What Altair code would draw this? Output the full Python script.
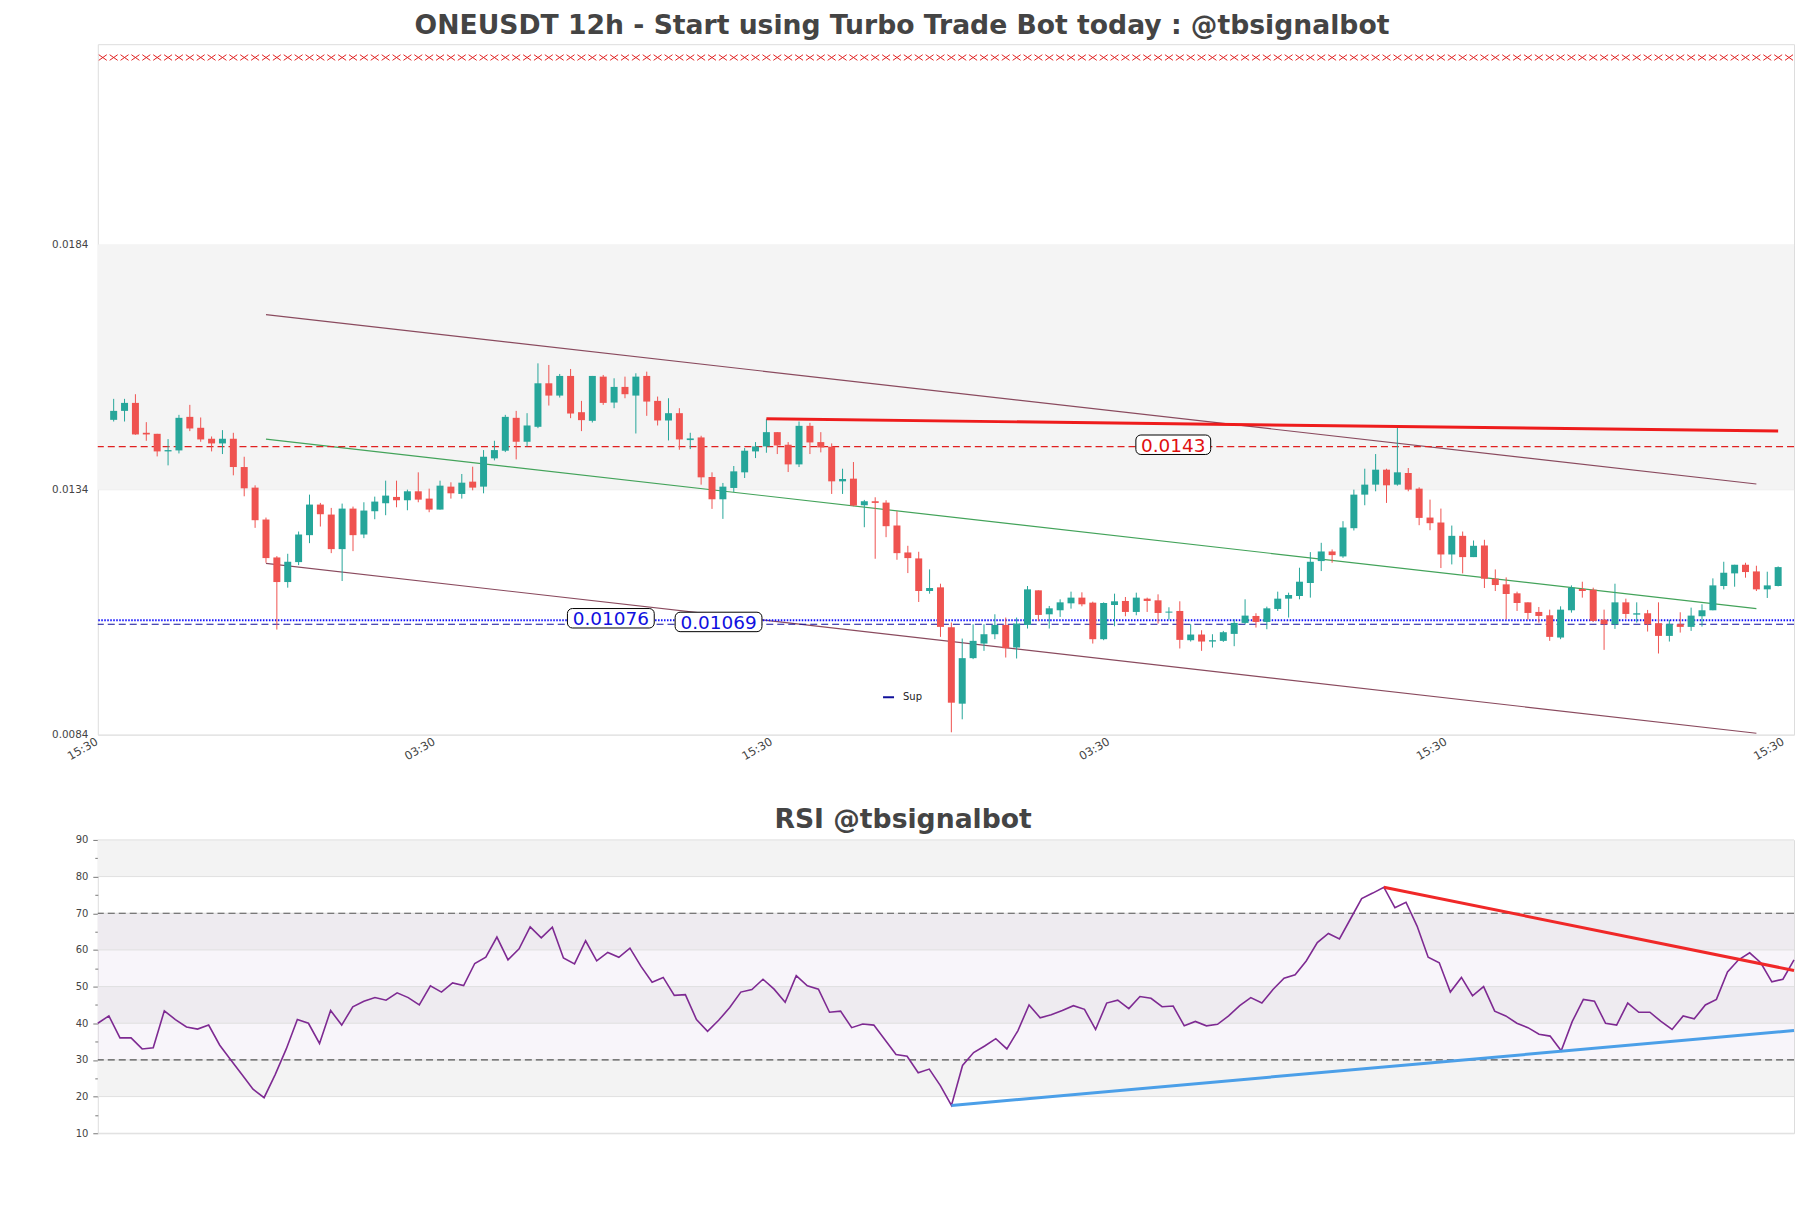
import altair as alt
import pandas as pd

# ---------------- candle data (12h candles) ----------------
opens = [
0.014824, 0.015007, 0.015170, 0.014560, 0.014539, 0.014180, 0.014200, 0.014885, 0.014662, 0.014438,
0.014343, 0.014438, 0.013861, 0.013441, 0.012790, 0.012016, 0.011514, 0.011921, 0.012471, 0.013095,
0.012891, 0.012186, 0.013013, 0.012484, 0.012959, 0.013122, 0.013251, 0.013183, 0.013366, 0.013217,
0.012993, 0.013461, 0.013312, 0.013563, 0.013461, 0.014038, 0.014194, 0.014865, 0.014377, 0.014682,
0.015570, 0.015319, 0.015720, 0.014980, 0.014804, 0.015706, 0.015177, 0.015496, 0.015319, 0.015720,
0.015211, 0.014811, 0.014960, 0.014411, 0.014465, 0.013658, 0.013203, 0.013434, 0.013753, 0.014180,
0.014282, 0.014573, 0.014316, 0.013915, 0.014702, 0.014370, 0.014275, 0.013569, 0.013624, 0.013081,
0.013163, 0.013135, 0.012668, 0.012118, 0.011996, 0.011331, 0.011406, 0.010592, 0.009032, 0.009961,
0.010259, 0.010449, 0.010639, 0.010178, 0.010639, 0.011345, 0.010856, 0.010938, 0.011080, 0.011196,
0.011094, 0.010348, 0.011046, 0.011128, 0.010904, 0.011175, 0.011141, 0.010890, 0.010924, 0.010327,
0.010443, 0.010300, 0.010314, 0.010456, 0.010680, 0.010822, 0.010700, 0.010965, 0.011175, 0.011229,
0.011494, 0.011942, 0.012138, 0.012037, 0.012613, 0.013298, 0.013502, 0.013807, 0.013502, 0.013739,
0.013420, 0.012830, 0.012729, 0.012077, 0.012457, 0.012023, 0.012260, 0.011582, 0.011467, 0.011284,
0.011100, 0.010904, 0.010836, 0.010382, 0.010938, 0.011372, 0.011358, 0.010748, 0.010653, 0.011100,
0.010849, 0.010877, 0.010673, 0.010415, 0.010653, 0.010599, 0.010816, 0.010938, 0.011433, 0.011691,
0.011867, 0.011731, 0.011365, 0.011433]
highs = [
0.015252, 0.015252, 0.015347, 0.014777, 0.014539, 0.014431, 0.014926, 0.015130, 0.014872, 0.014485,
0.014614, 0.014560, 0.014071, 0.013488, 0.012830, 0.012043, 0.012091, 0.012545, 0.013298, 0.013129,
0.013027, 0.013115, 0.013054, 0.013142, 0.013257, 0.013583, 0.013583, 0.013400, 0.013753, 0.013420,
0.013583, 0.013549, 0.013719, 0.013868, 0.014207, 0.014397, 0.014926, 0.015007, 0.014960, 0.015977,
0.015944, 0.015760, 0.015862, 0.015211, 0.015720, 0.015740, 0.015672, 0.015706, 0.015774, 0.015808,
0.015299, 0.015265, 0.015062, 0.014560, 0.014499, 0.013753, 0.013536, 0.013882, 0.014248, 0.014370,
0.014845, 0.014573, 0.014370, 0.014790, 0.014763, 0.014573, 0.014343, 0.013827, 0.013963, 0.013190,
0.013244, 0.013183, 0.012959, 0.012254, 0.012132, 0.011772, 0.011480, 0.010687, 0.010361, 0.010653,
0.010653, 0.010856, 0.010789, 0.010789, 0.011433, 0.011345, 0.011026, 0.011162, 0.011318, 0.011304,
0.011114, 0.011100, 0.011277, 0.011209, 0.011297, 0.011196, 0.011263, 0.010999, 0.011121, 0.010653,
0.010531, 0.010449, 0.010517, 0.010755, 0.011162, 0.010877, 0.011012, 0.011318, 0.011297, 0.011806,
0.012125, 0.012315, 0.012179, 0.012756, 0.013400, 0.013827, 0.014126, 0.013827, 0.014702, 0.013841,
0.013447, 0.013196, 0.013013, 0.012667, 0.012545, 0.012362, 0.012376, 0.011772, 0.011609, 0.011318,
0.011100, 0.011005, 0.010951, 0.011019, 0.011446, 0.011521, 0.011399, 0.010951, 0.011480, 0.011175,
0.011100, 0.010945, 0.011100, 0.010741, 0.010897, 0.010992, 0.011060, 0.011589, 0.011928, 0.011867,
0.011908, 0.011847, 0.011725, 0.011833]
lows = [
0.014790, 0.014790, 0.014519, 0.014397, 0.014078, 0.013895, 0.014139, 0.014594, 0.014377, 0.014180,
0.014126, 0.013692, 0.013264, 0.012620, 0.011908, 0.010544, 0.011399, 0.011860, 0.012308, 0.012647,
0.012104, 0.011535, 0.012145, 0.012410, 0.012796, 0.012878, 0.013040, 0.012979, 0.013142, 0.012939,
0.012993, 0.013217, 0.013217, 0.013386, 0.013325, 0.013997, 0.014166, 0.014017, 0.014282, 0.014655,
0.015116, 0.015279, 0.014858, 0.014594, 0.014770, 0.015130, 0.015062, 0.015265, 0.014546, 0.014906,
0.014709, 0.014404, 0.014214, 0.014227, 0.013502, 0.013007, 0.012803, 0.013352, 0.013637, 0.014044,
0.014153, 0.014126, 0.013759, 0.013861, 0.014126, 0.014160, 0.013312, 0.013312, 0.013061, 0.012633,
0.011989, 0.012430, 0.011969, 0.011697, 0.011107, 0.011277, 0.010395, 0.008448, 0.008713, 0.009941,
0.010110, 0.010348, 0.009974, 0.009954, 0.010565, 0.010720, 0.010565, 0.010802, 0.010971, 0.011019,
0.010259, 0.010327, 0.010612, 0.010816, 0.010836, 0.010904, 0.010666, 0.010748, 0.010158, 0.010300,
0.010110, 0.010178, 0.010293, 0.010205, 0.010653, 0.010585, 0.010551, 0.010924, 0.010789, 0.011162,
0.011196, 0.011738, 0.011908, 0.012009, 0.012566, 0.013081, 0.013366, 0.013129, 0.013481, 0.013366,
0.012674, 0.012572, 0.011800, 0.011874, 0.011691, 0.012023, 0.011392, 0.011331, 0.010755, 0.010924,
0.010748, 0.010687, 0.010314, 0.010348, 0.010890, 0.011196, 0.010700, 0.010130, 0.010558, 0.010768,
0.010687, 0.010504, 0.010056, 0.010300, 0.010483, 0.010517, 0.010605, 0.010938, 0.011365, 0.011419,
0.011603, 0.011331, 0.011189, 0.011426]
closes = [
0.015007, 0.015170, 0.014526, 0.014526, 0.014180, 0.014207, 0.014865, 0.014648, 0.014424, 0.014343,
0.014438, 0.013861, 0.013427, 0.012776, 0.012003, 0.011514, 0.011928, 0.012484, 0.013095, 0.012898,
0.012186, 0.013013, 0.012471, 0.012973, 0.013156, 0.013278, 0.013183, 0.013366, 0.013196, 0.012993,
0.013481, 0.013325, 0.013542, 0.013441, 0.014071, 0.014207, 0.014885, 0.014377, 0.014709, 0.015570,
0.015319, 0.015720, 0.014953, 0.014818, 0.015720, 0.015170, 0.015496, 0.015347, 0.015706, 0.015197,
0.014811, 0.014960, 0.014424, 0.014445, 0.013651, 0.013203, 0.013461, 0.013773, 0.014194, 0.014282,
0.014573, 0.014302, 0.013915, 0.014702, 0.014363, 0.014261, 0.013569, 0.013617, 0.013074, 0.013163,
0.013129, 0.012654, 0.012104, 0.012003, 0.011331, 0.011392, 0.010599, 0.009052, 0.009961, 0.010314,
0.010449, 0.010639, 0.010164, 0.010666, 0.011365, 0.010843, 0.010978, 0.011100, 0.011196, 0.011060,
0.010348, 0.011087, 0.011121, 0.010904, 0.011196, 0.011128, 0.010883, 0.010911, 0.010334, 0.010443,
0.010300, 0.010327, 0.010490, 0.010680, 0.010829, 0.010700, 0.010978, 0.011175, 0.011250, 0.011521,
0.011928, 0.012138, 0.012064, 0.012627, 0.013298, 0.013502, 0.013807, 0.013488, 0.013753, 0.013400,
0.012823, 0.012715, 0.012077, 0.012457, 0.012023, 0.012254, 0.011582, 0.011453, 0.011270, 0.011087,
0.010883, 0.010822, 0.010395, 0.010951, 0.011399, 0.011331, 0.010720, 0.010653, 0.011100, 0.010863,
0.010877, 0.010653, 0.010415, 0.010653, 0.010599, 0.010829, 0.010938, 0.011446, 0.011704, 0.011867,
0.011718, 0.011365, 0.011446, 0.011819]

# ---------------- RSI values ----------------
rsi = [
40, 42, 36, 36, 33, 33.3, 43.4, 41, 39, 38.4,
39.5, 34, 30, 26, 22, 19.7, 26, 33, 41, 40,
34.5, 43.5, 39.5, 44.5, 46, 47, 46.3, 48.3, 47, 45,
50.2, 48.5, 51, 50.3, 56.3, 58, 63.5, 57.3, 60.3, 66.3,
63.3, 66.2, 57.8, 56.2, 62.5, 57, 59.3, 58, 60.5, 55.5,
51.2, 52.5, 47.6, 47.8, 41, 37.8, 40.8, 44.3, 48.5, 49.2,
52, 49.3, 45.7, 53, 50.2, 49.3, 43, 43.3, 38.8, 39.8,
39.5, 35.5, 31.5, 31, 26.5, 27.5, 23, 17.6, 28.5, 32,
33.8, 35.8, 33, 38, 45, 41.5, 42.3, 43.5, 44.8, 43.8,
38.3, 45.5, 46.3, 44, 47.3, 46.8, 44.5, 44.7, 39.3, 40.5,
39.3, 39.7, 42, 44.8, 47, 45.5, 49.2, 52.3, 53.2, 57,
62, 64.5, 63, 68.5, 74, 75.5, 77.1, 71.5, 73, 66.5,
58, 56.5, 48.5, 52.5, 47.5, 50, 43.3, 42, 40, 38.8,
37, 36.5, 32.5, 40.5, 46.5, 46, 40, 39.5, 45.5, 43,
43, 40.5, 38.3, 42, 41.2, 45, 46.5, 54, 57.3, 59.2,
56.5, 51.3, 52, 57.3]

# ---------------- axis / annotation values ----------------
tick_pos = [-1, 30, 61, 92, 123, 154]
tick_text = ["15:30", "03:30", "15:30", "03:30", "15:30", "15:30"]
price_ticks = [0.0084, 0.0134, 0.0184]
zone_lo, zone_hi = [0.0134], [0.0184]
res_level = [0.014278]
res_text, res_tx, res_ty = ["0.0143"], [97.4], [0.014316]
sup_dot_level = [0.010734]
sup_dash_level = [0.010653]
sup_text, sup_tx, sup_ty = ["0.01076", "0.01069"], [45.7, 55.6], [0.010775, 0.010700]
top_x_level = 0.022218
upper_ch = {"x": [14], "x2": [151], "y": [0.016970], "y2": [0.013515]}
middle_ch = {"x": [14], "x2": [151], "y": [0.014431], "y2": [0.010972]}
lower_ch = {"x": [14], "x2": [151], "y": [0.011894], "y2": [0.008428]}
res_trend = {"x": [60], "x2": [153], "y": [0.014845], "y2": [0.014594]}

rsi_band_lo, rsi_band_hi = [20, 40, 60, 80], [30, 50, 70, 90]
rsi_hatch_lo, rsi_hatch_hi = [30], [70]
rsi_grid = [10, 20, 30, 40, 50, 60, 70, 80, 90]
rsi_dash = [30, 70]
rsi_sup = {"x": [77], "x2": [153], "y": [17.6], "y2": [38.0]}
rsi_res = {"x": [116], "x2": [153], "y": [77.1], "y2": [54.4]}

FONT = "DejaVu Sans"
GREEN, RED = "#26a69a", "#ef5350"
N = len(closes)

candles = pd.DataFrame({"i": list(range(N)), "open": opens, "high": highs,
                        "low": lows, "close": closes})

xs = alt.Scale(domain=[-1, 154], nice=False, zero=False)
ys = alt.Scale(domain=[0.0084, 0.02249], nice=False, zero=False)

label_expr = " : ".join(f"datum.value == {p} ? '{t}'" for p, t in zip(tick_pos, tick_text)) + " : ''"
xaxis = alt.Axis(values=tick_pos, labelExpr=label_expr, labelAngle=-30, labelFontSize=11.5,
                 labelColor="#444", ticks=False, domain=False, grid=False, labelPadding=1,
                 labelOffset=-9, title=None, labelOverlap=False, labelFlush=False, labelFont=FONT)
yaxis = alt.Axis(values=price_ticks, format=".4f", labelFontSize=10.4, labelColor="#444",
                 ticks=False, domain=False, grid=True, gridColor="#e3e3e3", labelPadding=10,
                 title=None, minExtent=89, maxExtent=89, labelOverlap=False, labelFont=FONT)


def X(f):
    return alt.X(f, scale=xs, axis=xaxis)


def Y(f):
    return alt.Y(f, scale=ys, axis=yaxis)


def rrect_path(w, h, r):
    s = 2.0 / w
    hh = h * s / 2
    rr = r * s
    a = f"A{rr:.4f},{rr:.4f} 0 0 1 "
    return (f"M{-1 + rr:.4f},{-hh:.4f}H{1 - rr:.4f}{a}1,{-hh + rr:.4f}V{hh - rr:.4f}"
            f"{a}{1 - rr:.4f},{hh:.4f}H{-1 + rr:.4f}{a}-1,{hh - rr:.4f}V{-hh + rr:.4f}"
            f"{a}{-1 + rr:.4f},{-hh:.4f}Z")


def segment(d, color, width):
    return alt.Chart(pd.DataFrame(d)).mark_rule(color=color, strokeWidth=width).encode(
        x=X("x:Q"), x2="x2:Q", y=Y("y:Q"), y2="y2:Q")


col = alt.condition("datum.close >= datum.open", alt.value(GREEN), alt.value(RED))

zone = alt.Chart(pd.DataFrame({"lo": zone_lo, "hi": zone_hi})).mark_rect(
    color="#f4f4f4").encode(y=Y("lo:Q"), y2="hi:Q")

xmarks = alt.Chart(pd.DataFrame({"i": list(range(-1, 155)), "v": [top_x_level] * 156})).mark_point(
    shape="M-1,-0.7L1,0.7M-1,0.7L1,-0.7", size=64, filled=False, color="#e02020",
    strokeWidth=1, opacity=1).encode(x=X("i:Q"), y=Y("v:Q"))

ch_up = segment(upper_ch, "#8a4a5e", 1.2)
ch_mid = segment(middle_ch, "#43a35a", 1.2)
ch_low = segment(lower_ch, "#8a4a5e", 1.2)

res_line = alt.Chart(pd.DataFrame({"v": res_level})).mark_rule(
    color="#e02020", strokeDash=[7, 4], strokeWidth=1.2).encode(y=Y("v:Q"))
sup_dot = alt.Chart(pd.DataFrame({"v": sup_dot_level})).mark_rule(
    color="#1010ff", strokeDash=[1.5, 1.5], strokeWidth=2).encode(y=Y("v:Q"))
sup_dash = alt.Chart(pd.DataFrame({"v": sup_dash_level, "name": ["Sup"]})).mark_rule(
    strokeDash=[7, 4], strokeWidth=1.2).encode(
    y=Y("v:Q"),
    color=alt.Color("name:N", scale=alt.Scale(domain=["Sup"], range=["#10109a"]),
                    legend=alt.Legend(orient="none", legendX=786, legendY=648, title=None,
                                      symbolType="stroke", symbolSize=121, symbolStrokeWidth=2,
                                      symbolDash=[1, 0], labelFontSize=10, labelFont=FONT,
                                      labelColor="#222", padding=0, labelOffset=8)))

wicks = alt.Chart(candles).mark_rule(strokeWidth=1).encode(
    x=X("i:Q"), y=Y("low:Q"), y2="high:Q", color=col)
bodies = alt.Chart(candles).mark_bar(size=7).encode(
    x=X("i:Q"), y=Y("open:Q"), y2="close:Q", color=col)

trend = segment(res_trend, "#ee1c1c", 3)

res_df = pd.DataFrame({"t": res_text, "x": res_tx, "y": res_ty})
sup_df = pd.DataFrame({"t": sup_text, "x": sup_tx, "y": sup_ty})
res_box = alt.Chart(res_df).mark_point(shape=rrect_path(75, 19.5, 5), size=75 * 75, filled=True,
                                       fill="white", stroke="black", strokeWidth=1, opacity=1
                                       ).encode(x=X("x:Q"), y=Y("y:Q"))
sup_box = alt.Chart(sup_df).mark_point(shape=rrect_path(87, 19.5, 5), size=87 * 87, filled=True,
                                       fill="white", stroke="black", strokeWidth=1, opacity=1
                                       ).encode(x=X("x:Q"), y=Y("y:Q"))
res_txt = alt.Chart(res_df).mark_text(font=FONT, fontSize=18.5, color="#e01010", baseline="middle",
                                      align="center", dy=1).encode(x=X("x:Q"), y=Y("y:Q"), text="t:N")
sup_txt = alt.Chart(sup_df).mark_text(font=FONT, fontSize=18.5, color="#1010e0", baseline="middle",
                                      align="center", dy=1).encode(x=X("x:Q"), y=Y("y:Q"), text="t:N")

top = alt.layer(zone, xmarks, ch_up, ch_mid, ch_low, res_line, sup_dot, sup_dash, wicks, bodies,
                trend, res_box, sup_box, res_txt, sup_txt).properties(
    width=1700, height=692,
    title=alt.TitleParams("ONEUSDT 12h - Start using Turbo Trade Bot today : @tbsignalbot",
                          fontSize=26.7, font=FONT, fontWeight="bold", color="#444444",
                          anchor="middle", frame="bounds", offset=5))

# ---------------- RSI panel ----------------
rxs = alt.Scale(domain=[0, 153], nice=False, zero=False)
rys = alt.Scale(domain=[10, 90], nice=False, zero=False)
ryaxis = alt.Axis(values=list(range(10, 91, 5)),
                  labelExpr="datum.value % 10 === 0 ? datum.label : ''",
                  tickSize={"condition": {"test": "datum.value % 10 === 0", "value": 5}, "value": 3},
                  tickColor="#777777", labelFontSize=10, labelColor="#444", domain=False,
                  grid=False, labelPadding=5, title=None, minExtent=89, maxExtent=89,
                  labelOverlap=False, labelFont=FONT)


def RY(f):
    return alt.Y(f, scale=rys, axis=ryaxis)


def RX(f):
    return alt.X(f, scale=rxs, axis=None)


rbands = alt.Chart(pd.DataFrame({"lo": rsi_band_lo, "hi": rsi_band_hi})).mark_rect(
    color="#f3f3f3").encode(y=RY("lo:Q"), y2="hi:Q")
rhatch = alt.Chart(pd.DataFrame({"lo": rsi_hatch_lo, "hi": rsi_hatch_hi})).mark_rect(
    color="#dccfe6", opacity=0.2).encode(y=RY("lo:Q"), y2="hi:Q")
rgrid = alt.Chart(pd.DataFrame({"v": rsi_grid})).mark_rule(color="#e0e0e0").encode(y=RY("v:Q"))
rdash = alt.Chart(pd.DataFrame({"v": rsi_dash})).mark_rule(
    color="#555555", strokeDash=[7, 4], strokeWidth=1.2).encode(y=RY("v:Q"))
rline = alt.Chart(pd.DataFrame({"j": list(range(len(rsi))), "r": rsi})).mark_line(
    color="#7e2a92", strokeWidth=1.6).encode(x=RX("j:Q"), y=RY("r:Q"))
rsup = alt.Chart(pd.DataFrame(rsi_sup)).mark_rule(color="#4b9fe8", strokeWidth=3).encode(
    x=RX("x:Q"), x2="x2:Q", y=RY("y:Q"), y2="y2:Q")
rres = alt.Chart(pd.DataFrame(rsi_res)).mark_rule(color="#f02828", strokeWidth=3).encode(
    x=RX("x:Q"), x2="x2:Q", y=RY("y:Q"), y2="y2:Q")

bottom = alt.layer(rbands, rhatch, rgrid, rdash, rline, rsup, rres).properties(
    width=1700, height=294,
    title=alt.TitleParams("RSI @tbsignalbot", fontSize=26.7, font=FONT, fontWeight="bold",
                          color="#444444", anchor="middle", frame="bounds", offset=1))

chart = alt.vconcat(top, bottom, spacing=42.5).properties(
    padding={"left": 0, "top": 2, "right": 5, "bottom": 5},
    background="white"
).configure_view(stroke="#dddddd", strokeWidth=1).configure(font=FONT)

chart.save("out.html", embed_options={"renderer": "svg", "actions": False})
